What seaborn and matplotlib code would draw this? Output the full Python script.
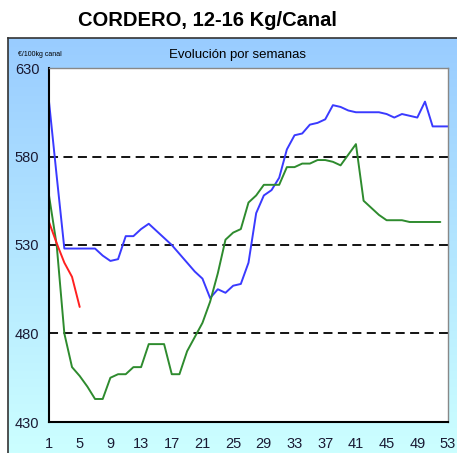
import numpy as np
import pandas as pd
import seaborn as sns
import matplotlib.pyplot as plt
from matplotlib.ticker import MultipleLocator, FixedLocator

# precios semanales, euros/100kg canal
semanas = list(range(1, 54))
serie_azul = [611, 569, 528, 528, 528, 528, 528, 524, 521, 522,
              535, 535, 539, 542, 538, 534, 530, 525, 520, 515,
              511, 500, 505, 503, 507, 508, 520, 548, 558, 561,
              568, 584, 592, 593, 598, 599, 601, 609, 608, 606,
              605, 605, 605, 605, 604, 602, 604, 603, 602, 611,
              597, 597, 597]
serie_verde = [558, 530, 480, 461, 456, 450, 443, 443, 455, 457,
               457, 461, 461, 474, 474, 474, 457, 457, 470, 478,
               486, 498, 514, 533, 537, 539, 554, 558, 564, 564,
               564, 574, 574, 576, 576, 578, 578, 577, 575, 581,
               587, 555, 551, 547, 544, 544, 544, 543, 543, 543,
               543, 543]
serie_roja = [543, 531, 520, 512, 495]
y_ticks = [430, 480, 530, 580, 630]

df_azul = pd.DataFrame({'semana': semanas, 'precio': serie_azul})
df_verde = pd.DataFrame({'semana': semanas[:len(serie_verde)], 'precio': serie_verde})
df_roja = pd.DataFrame({'semana': semanas[:len(serie_roja)], 'precio': serie_roja})

sns.set_style('white')
plt.rcParams['font.family'] = ['Liberation Sans', 'DejaVu Sans']

fig = plt.figure(figsize=(4.57, 4.53), dpi=100)
W, H = 457, 453

# fondo degradado del marco
bg = fig.add_axes([8 / W, 0, 449 / W, 415 / H])
grad = np.linspace(0, 1, 256).reshape(-1, 1)
top = np.array([0.60, 0.80, 1.0])
bot = np.array([0.80, 1.0, 1.0])
img = top[None, None, :] * (1 - grad[:, :, None]) + bot[None, None, :] * grad[:, :, None]
bg.imshow(img, aspect='auto', extent=[0, 1, 0, 1])
bg.set_xlim(0, 1)
bg.set_ylim(0, 1)
bg.set_xticks([])
bg.set_yticks([])
for s in ['left', 'top']:
    bg.spines[s].set_color('#333333')
    bg.spines[s].set_linewidth(1.2)
for s in ['right', 'bottom']:
    bg.spines[s].set_visible(False)

ax = fig.add_axes([49 / W, 1 - 422 / H, 399 / W, 354 / H])
ax.set_facecolor('white')

sns.lineplot(data=df_azul, x='semana', y='precio', ax=ax, color='#3a3aff', linewidth=1.4)
sns.lineplot(data=df_verde, x='semana', y='precio', ax=ax, color='#2e8b2e', linewidth=1.4)
sns.lineplot(data=df_roja, x='semana', y='precio', ax=ax, color='#ff2020', linewidth=1.4)

for v in y_ticks[1:-1]:
    ax.axhline(v, color='black', linewidth=1.3, linestyle=(0, (5, 3)), zorder=0)

ax.set_xlim(1, 53)
ax.set_ylim(430, 630)
ax.xaxis.set_major_locator(FixedLocator(list(range(1, 54, 4))))
ax.xaxis.set_minor_locator(MultipleLocator(1))
ax.yaxis.set_major_locator(FixedLocator(y_ticks))
ax.yaxis.set_minor_locator(FixedLocator(list(range(450, 630, 20))))
ax.tick_params(axis='both', which='both', direction='in', color='black', labelcolor='#1a1a33')
ax.tick_params(axis='x', which='both', length=4, width=1, pad=11, labelsize=10.5)
ax.tick_params(axis='y', which='both', length=4, width=1, pad=7, labelsize=10.5)
ax.tick_params(axis='y', which='major', length=0)
ax.set_xlabel('')
ax.set_ylabel('')

for s in ['left', 'bottom']:
    ax.spines[s].set_color('black')
    ax.spines[s].set_linewidth(1.5)
for s in ['right', 'top']:
    ax.spines[s].set_color('#888888')
    ax.spines[s].set_linewidth(1.0)

fig.text(207 / W, 1 - 20 / H, 'CORDERO, 12-16 Kg/Canal', ha='center', va='center',
         fontsize=14.5, fontweight='bold', color='black')
fig.text(237 / W, 1 - 55 / H, 'Evolución por semanas', ha='center', va='center',
         fontsize=9.5, color='black')
fig.text(18 / W, 1 - 55 / H, '€/100kg canal', ha='left', va='center',
         fontsize=5, color='black')

fig.savefig('out.png', dpi=100)
